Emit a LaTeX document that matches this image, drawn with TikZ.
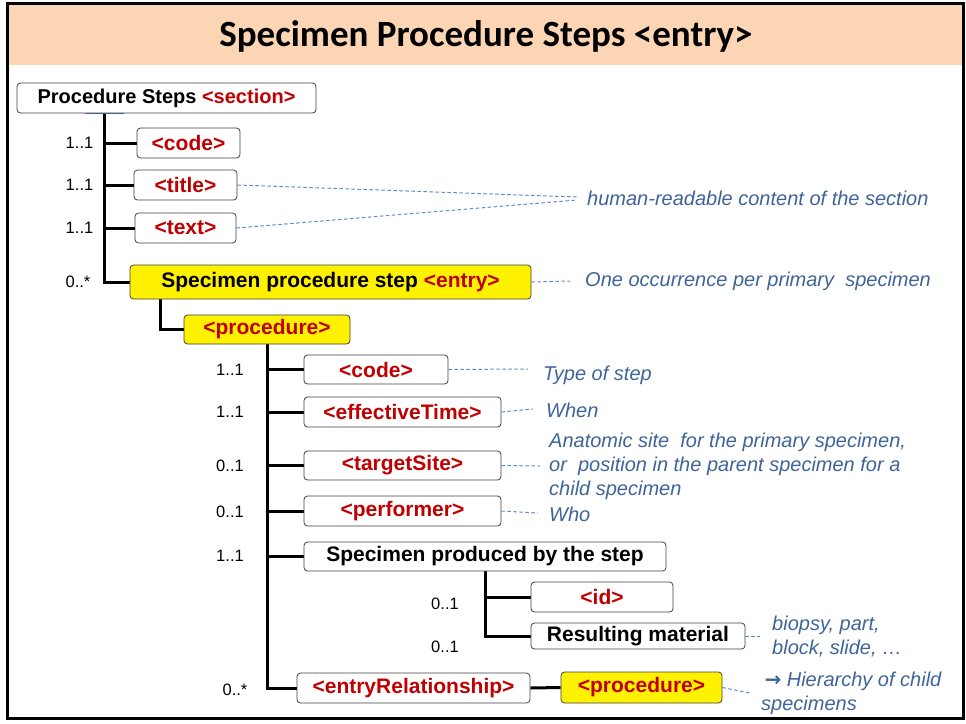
\documentclass[tikz,border=0pt]{standalone}
\usepackage{fontspec}
\setmainfont{Liberation Sans}
\newfontfamily\titlefont{Carlito}
\newfontfamily\arrowfont{DejaVu Sans}
\usetikzlibrary{backgrounds}
\definecolor{bandc}{RGB}{252,213,181}
\definecolor{tagred}{RGB}{192,0,0}
\definecolor{notec}{RGB}{62,100,152}
\definecolor{leadc}{RGB}{95,140,200}
\definecolor{stubc}{RGB}{70,100,140}
\newcommand\redtag[1]{\textcolor{tagred}{#1}}
\begin{document}
\begin{tikzpicture}[x=1pt,y=-1pt,
  box/.style={draw=black!75, line width=0.8pt, rounded corners=3.5pt, fill=white,
    inner sep=0pt, font=\fontsize{21}{25}\selectfont\bfseries},
  hl/.style={box, fill=yellow},
  mult/.style={inner sep=0pt, font=\fontsize{16.5}{20}\selectfont},
  note/.style={inner sep=0pt, anchor=west, align=left, text=notec,
    font=\fontsize{20}{24}\selectfont\itshape},
  spine/.style={line width=3pt},
  lead/.style={draw=leadc, dashed, dash pattern=on 3.5pt off 2.5pt, line width=1pt}]
\useasboundingbox (0,0) rectangle (966,723);

% title
\node[inner sep=0pt, anchor=base, font=\fontsize{37}{42}\selectfont\titlefont\bfseries]
  (ttl) at (486,46) {Specimen Procedure Steps <entry>};

% section and its children
\node[box, minimum width=299pt, minimum height=30pt, font=\fontsize{20}{24}\selectfont\bfseries]
  (sec) at (166.5,98) {Procedure Steps \redtag{<section>}};
\node[box, minimum width=103pt, minimum height=30pt] (code1) at (188.5,143) {\redtag{<code>}};
\node[box, minimum width=103pt, minimum height=30pt] (title) at (185.5,185) {\redtag{<title>}};
\node[box, minimum width=101pt, minimum height=30pt] (text) at (185.5,228) {\redtag{<text>}};
\node[hl, minimum width=401pt, minimum height=34pt] (entry) at (330.5,282)
  {Specimen procedure step \redtag{<entry>}};
\node[hl, minimum width=166pt, minimum height=29pt] (proc) at (267,329.5) {\redtag{<procedure>}};

% procedure children
\node[box, minimum width=144pt, minimum height=29pt] (code2) at (376,369.5) {\redtag{<code>}};
\node[box, minimum width=197pt, minimum height=30pt] (eff) at (402.5,412) {\redtag{<effectiveTime>}};
\node[box, minimum width=197pt, minimum height=29pt] (target) at (402.5,465.5) {\redtag{<targetSite>}};
\node[box, minimum width=197pt, minimum height=30pt] (perf) at (402.5,511) {\redtag{<performer>}};
\node[box, minimum width=362pt, minimum height=29pt] (spec) at (485,556.5) {Specimen produced by the step};
\node[box, minimum width=142pt, minimum height=30pt] (id) at (602,597) {\redtag{<id>}};
\node[box, minimum width=214pt, minimum height=26pt] (resmat) at (638,636) {Resulting material};
\node[box, minimum width=233pt, minimum height=30pt] (er) at (413.5,688) {\redtag{<entryRelationship>}};
\node[hl, minimum width=161pt, minimum height=31pt] (proc2) at (641.5,687.5) {\redtag{<procedure>}};

% cardinalities
\node[mult] (m1) at (79.5,143) {1..1};
\node[mult] (m2) at (79.5,185) {1..1};
\node[mult] (m3) at (79.5,228) {1..1};
\node[mult] (m4) at (78,282) {0..*};
\node[mult] (m5) at (230,370) {1..1};
\node[mult] (m6) at (230,412) {1..1};
\node[mult] (m7) at (230,466) {0..1};
\node[mult] (m8) at (230,512) {0..1};
\node[mult] (m9) at (230,556) {1..1};
\node[mult] (m10) at (445,604) {0..1};
\node[mult] (m11) at (445,647) {0..1};
\node[mult] (m12) at (235,690) {0..*};

% notes
\node[note] (nhr) at (587,198) {human-readable content of the section};
\node[note] (none) at (585,281) {One occurrence per primary~ specimen};
\node[note] (ntype) at (543,375) {Type of step};
\node[note] (nwhen) at (546,410) {When};
\node[note] (nsite) at (549,466) {Anatomic site~ for the primary specimen,\\or~ position in the parent specimen for a\\child specimen};
\node[note] (nwho) at (549,514) {Who};
\node[note] (nmat) at (772,637) {biopsy, part,\\block, slide, \dots};
\node[note] (nhier) at (761,693.5) {\,{\arrowfont\upshape\bfseries →} Hierarchy of child\\specimens};

% free ends of the leader lines
\coordinate (hrA) at (577,197);
\coordinate (hrB) at (577,200);
\coordinate (oneL) at (570,281);
\coordinate (typeL) at (528,369);
\coordinate (whenL) at (533,409);
\coordinate (siteL) at (540,466);
\coordinate (whoL) at (538,513);
\coordinate (matL) at (760,636);
\coordinate (hierL) at (750,693);

% spine corners
\coordinate (j1) at (104,282);
\coordinate (j2) at (160,329.5);

\begin{scope}[on background layer]
  \fill[bandc] (7,3) rectangle (963,65);
  % tree connectors
  \draw[spine] (sec.south -| j1) -- (j1) -- (entry.west);
  \foreach \n in {code1,title,text} \draw[spine] (j1 |- \n.west) -- (\n.west);
  \draw[spine] (entry.south -| j2) -- (j2) -- (proc.west);
  \draw[spine] (proc.south) -- (proc.south |- er.west) -- (er.west);
  \foreach \n in {code2,eff,target,perf,spec} \draw[spine] (proc.south |- \n.west) -- (\n.west);
  \draw[spine] (spec.south) -- (spec.south |- resmat.west) -- (resmat.west);
  \draw[spine] (spec.south |- id.west) -- (id.west);
  \draw[spine] (er.east) -- (proc2.west);
  % leader lines to the notes
  \draw[lead] (title.east) -- (hrA);
  \draw[lead] (text.east) -- (hrB);
  \draw[lead] (entry.east) -- (oneL);
  \draw[lead] (code2.east) -- (typeL);
  \draw[lead] (eff.east) -- (whenL);
  \draw[lead] (target.east) -- (siteL);
  \draw[lead] (perf.east) -- (whoL);
  \draw[lead] (resmat.east) -- (matL);
  \draw[lead] (proc2.east) -- (hierL);
\end{scope}

% small mark under the section box
\draw[stubc, line width=1.5pt] ([xshift=-81.5pt]sec.south) -- ([xshift=-42.5pt]sec.south);

% outer frame
\draw[line width=3pt] (7,3) rectangle (963,718);
\end{tikzpicture}
\end{document}
